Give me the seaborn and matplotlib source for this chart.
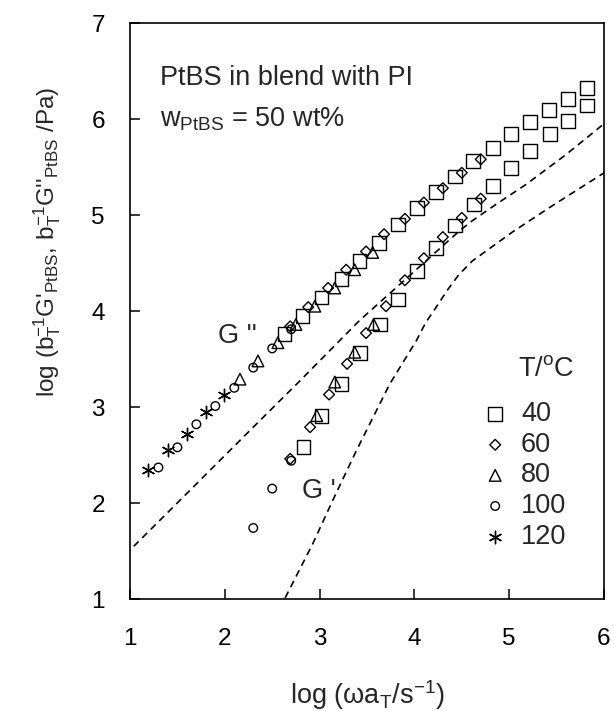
import numpy as np
import pandas as pd
import matplotlib
matplotlib.use("Agg")
import matplotlib.pyplot as plt
import seaborn as sns

# ---------------- data ----------------
# 40 C (squares)
x40_g2 = [2.63, 2.82, 3.02, 3.23, 3.42, 3.63, 3.83, 4.03, 4.23, 4.43, 4.62, 4.83, 5.02, 5.22, 5.42, 5.62, 5.82]
y40_g2 = [3.76, 3.95, 4.14, 4.33, 4.52, 4.71, 4.90, 5.07, 5.24, 5.40, 5.56, 5.70, 5.84, 5.97, 6.09, 6.21, 6.32]
x40_g1 = [2.83, 3.02, 3.23, 3.43, 3.64, 3.83, 4.03, 4.23, 4.43, 4.63, 4.83, 5.02, 5.22, 5.43, 5.62, 5.82]
y40_g1 = [2.58, 2.91, 3.24, 3.56, 3.86, 4.12, 4.42, 4.66, 4.89, 5.11, 5.30, 5.49, 5.67, 5.84, 5.98, 6.14]
# 60 C (diamonds)
x60_g2 = [2.69, 2.88, 3.09, 3.28, 3.49, 3.68, 3.90, 4.10, 4.30, 4.50, 4.70]
y60_g2 = [3.84, 4.04, 4.24, 4.43, 4.62, 4.80, 4.96, 5.13, 5.28, 5.44, 5.58]
x60_g1 = [2.69, 2.90, 3.10, 3.29, 3.49, 3.70, 3.90, 4.10, 4.30, 4.50, 4.70]
y60_g1 = [2.46, 2.79, 3.13, 3.45, 3.77, 4.05, 4.32, 4.55, 4.77, 4.97, 5.17]
# 80 C (triangles)
x80_g2 = [2.16, 2.35, 2.56, 2.75, 2.95, 3.16, 3.37, 3.56]
y80_g2 = [3.29, 3.48, 3.67, 3.86, 4.05, 4.24, 4.43, 4.61]
x80_g1 = [2.97, 3.16, 3.37, 3.57]
y80_g1 = [2.91, 3.26, 3.57, 3.86]
# 100 C (circles)
x100_g2 = [1.30, 1.50, 1.70, 1.90, 2.10, 2.30, 2.50, 2.70]
y100_g2 = [2.37, 2.58, 2.82, 3.01, 3.20, 3.41, 3.61, 3.81]
x100_g1 = [2.30, 2.50, 2.70]
y100_g1 = [1.74, 2.15, 2.44]
# 120 C (asterisks)
x120_g2 = [1.19, 1.40, 1.60, 1.80, 1.99]
y120_g2 = [2.34, 2.55, 2.72, 2.95, 3.13]

# dashed reference curves
upper_x = [0.95, 1.00, 1.60, 2.30, 2.79, 3.14, 3.42, 3.77, 4.12, 4.47, 4.61, 4.89, 5.18, 5.60, 6.05]
upper_y = [1.46, 1.51, 2.10, 2.79, 3.27, 3.62, 3.90, 4.21, 4.52, 4.83, 4.94, 5.13, 5.32, 5.63, 5.99]
lower_x = [2.58, 2.61, 2.93, 3.14, 3.39, 3.74, 4.02, 4.12, 4.23, 4.35, 4.47, 4.61, 4.82, 5.03, 5.46, 6.05]
lower_y = [0.90, 0.96, 1.58, 2.03, 2.55, 3.24, 3.69, 3.88, 4.04, 4.22, 4.38, 4.52, 4.67, 4.82, 5.10, 5.47]

temps = ["40", "60", "80", "100", "120"]
x_ticks = [1, 2, 3, 4, 5, 6]
y_ticks = [1, 2, 3, 4, 5, 6, 7]

# ---------------- style ----------------
sns.set_style("ticks")
plt.rcParams["font.family"] = ["Liberation Sans", "DejaVu Sans"]
plt.rcParams["mathtext.fontset"] = "custom"
plt.rcParams["mathtext.rm"] = "Liberation Sans"
plt.rcParams["mathtext.it"] = "Liberation Sans:italic"
plt.rcParams["mathtext.bf"] = "Liberation Sans:bold"
plt.rcParams["lines.dashed_pattern"] = [4.2, 3.0]

FS = 19.5
TFS = 17.5
fig = plt.figure(figsize=(6.14, 7.11), dpi=100)
ax = fig.add_axes([130 / 614, 1 - 599 / 711, 474 / 614, 576 / 711])

# dashed curves
for cx, cy in [(upper_x, upper_y), (lower_x, lower_y)]:
    sns.lineplot(x=cx, y=cy, ax=ax, color="black", linestyle="--", linewidth=1.2,
                 sort=False, estimator=None)

# series
styles = {
    "40": dict(marker="s", s=98),
    "60": dict(marker="D", s=30),
    "80": dict(marker="^", s=70),
    "100": dict(marker="o", s=38),
    "120": dict(marker=(6, 2, 0), s=80),
}
series = {
    "40": [(x40_g2, y40_g2), (x40_g1, y40_g1)],
    "60": [(x60_g2, y60_g2), (x60_g1, y60_g1)],
    "80": [(x80_g2, y80_g2), (x80_g1, y80_g1)],
    "100": [(x100_g2, y100_g2), (x100_g1, y100_g1)],
    "120": [(x120_g2, y120_g2)],
}
handles = []
for t in temps:
    xs = sum([list(a) for a, b in series[t]], [])
    ys = sum([list(b) for a, b in series[t]], [])
    st = styles[t]
    before = len(ax.collections)
    if t == "120":
        sns.scatterplot(x=xs, y=ys, ax=ax, marker=st["marker"], s=st["s"],
                        color="black", linewidth=1.0, label=t, legend=False)
    else:
        sns.scatterplot(x=xs, y=ys, ax=ax, marker=st["marker"], s=st["s"],
                        facecolor="none", edgecolor="black", linewidth=1.0,
                        label=t, legend=False)
    handles.append(ax.collections[before])

ax.set_xlim(1, 6)
ax.set_ylim(1, 7)
ax.set_xticks(x_ticks)
ax.set_yticks(y_ticks)
ax.set_xticklabels([str(v) for v in x_ticks])
ax.set_yticklabels([str(v) for v in y_ticks])
ax.tick_params(direction="in", length=7, width=1.1, labelsize=TFS,
               top=False, right=False, color="black", labelcolor="black")
ax.tick_params(axis="x", pad=21)
ax.tick_params(axis="y", pad=18)
for sp in ax.spines.values():
    sp.set_visible(True)
    sp.set_linewidth(1.2)
    sp.set_color("black")

ax.set_xlabel("log (ωa$_\\mathregular{T}$/s$^\\mathregular{-1}$)", fontsize=FS)
ax.xaxis.set_label_coords(0.5, -0.137)
ax.set_ylabel("log (b$_\\mathregular{T}^\\mathregular{-1}$G'$_\\mathregular{PtBS}$, "
              "b$_\\mathregular{T}^\\mathregular{-1}$G''$_\\mathregular{PtBS}$ /Pa)", fontsize=17.5)
ax.yaxis.set_label_coords(-0.142, 0.62)

ax.text(1.316, 6.35, "PtBS in blend with PI", fontsize=FS, va="baseline", ha="left")
ax.text(1.316, 5.92, "w$_\\mathregular{PtBS}$ = 50 wt%", fontsize=FS, va="baseline", ha="left")
ax.text(1.93, 3.74, "G ''", fontsize=FS, va="center", ha="left")
ax.text(2.81, 2.12, "G '", fontsize=FS, va="center", ha="left")

ax.text(5.095, 3.4, "T/$^\\mathregular{o}$C", fontsize=FS, va="center", ha="left")
leg = ax.legend(handles=handles, labels=temps, loc="center left",
                bbox_to_anchor=((483 - 130) / 474, (599 - 475.5) / 576),
                frameon=False, fontsize=FS, borderpad=0, borderaxespad=0,
                handlelength=0.9, handletextpad=0.5, labelspacing=0.17,
                scatterpoints=1)

fig.savefig("out.png", dpi=100)
